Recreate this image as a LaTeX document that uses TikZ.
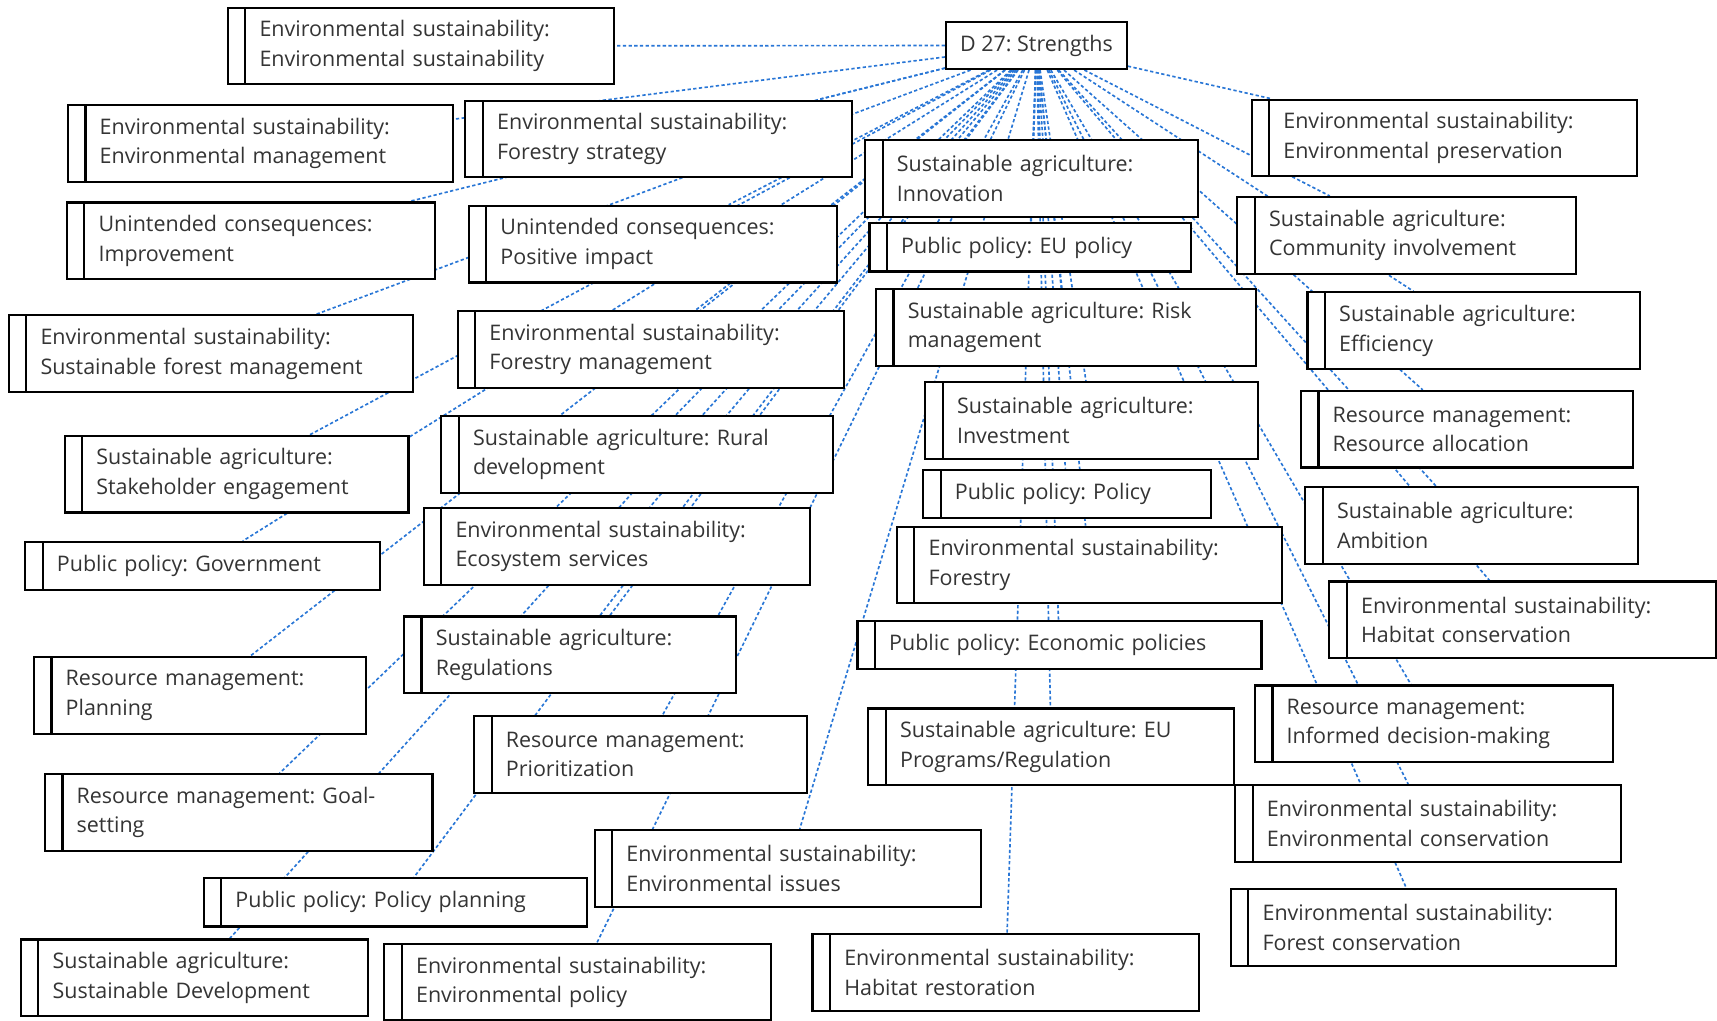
\documentclass[tikz,border=0pt]{standalone}
\usepackage{fontspec}
\setmainfont{Open Sans}
\usepackage{xcolor}
\usepackage{tikz}
\usetikzlibrary{backgrounds}
\frenchspacing

\definecolor{txtgray}{RGB}{52,52,52}
\definecolor{linkblue}{RGB}{40,118,214}

\begin{document}
\begin{tikzpicture}[
  x=0.5pt, y=-0.5pt,
  hub/.style={draw, line width=1pt, fill=white, anchor=north west, inner sep=0pt,
              minimum width=82.5pt, minimum height=21.5pt,
              font=\fontsize{9.8}{13.5}\selectfont, text=txtgray},
  leaf/.style={draw, line width=1pt, fill=white, anchor=north west, align=left,
               inner xsep=14.5pt, inner ysep=2pt, minimum height=35pt,
               font=\fontsize{9.8}{13.5}\selectfont, text=txtgray,
               path picture={\draw[line width=1pt]
                 ([xshift=8pt]path picture bounding box.north west) --
                 ([xshift=8pt]path picture bounding box.south west);}},
  leafone/.style={leaf, minimum height=22pt},
  link/.style={draw=linkblue, line width=0.75pt, dash pattern=on 1.5pt off 1.1pt}
]
\useasboundingbox (0,0) rectangle (1568,932);

% --- centre ---
\node[hub] (hub) at (863,19) {D 27: Strengths};

% --- left column ---
\node[leaf, text width=147.5pt] (esSust)    at (207,6)   {Environmental sustainability:\\Environmental sustainability};
\node[leaf, text width=147pt]   (esMgmt)    at (61,95)   {Environmental sustainability:\\Environmental management};
\node[leaf, text width=139pt]   (ucImprove) at (60,184)  {Unintended consequences:\\Improvement};
\node[leaf, text width=155.5pt] (esSFM)     at (7,287)   {Environmental sustainability:\\Sustainable forest management};
\node[leaf, text width=128pt]   (saStake)   at (58,397)  {Sustainable agriculture:\\Stakeholder engagement};
\node[leafone, text width=133pt] (ppGov)    at (22,494)  {Public policy: Government};
\node[leaf, text width=122.5pt] (rmPlan)    at (30,599)  {Resource management:\\Planning};
\node[leaf, text width=148pt]   (rmGoal)    at (40,706)  {Resource management: Goal-\\setting};
\node[leafone, text width=146pt] (ppPlanning) at (185,801) {Public policy: Policy planning};
\node[leaf, text width=129.5pt] (saSustDev) at (18,857)  {Sustainable agriculture:\\Sustainable Development};

% --- middle-left column ---
\node[leaf, text width=147.5pt] (esForStrat) at (424,91)  {Environmental sustainability:\\Forestry strategy};
\node[leaf, text width=139pt]   (ucPositive) at (427,187) {Unintended consequences:\\Positive impact};
\node[leaf, text width=147.5pt] (esForMgmt)  at (417,283) {Environmental sustainability:\\Forestry management};
\node[leaf, text width=150pt]   (saRural)    at (402,379) {Sustainable agriculture: Rural\\development};
\node[leaf, text width=147.5pt] (esEco)      at (386,463) {Environmental sustainability:\\Ecosystem services};
\node[leaf, text width=122.5pt] (saReg)      at (368,562) {Sustainable agriculture:\\Regulations};
\node[leaf, text width=123pt]   (rmPrior)    at (432,653) {Resource management:\\Prioritization};
\node[leaf, text width=147.5pt] (esIssues)   at (542,757) {Environmental sustainability:\\Environmental issues};
\node[leaf, text width=147.5pt] (esPolicy)   at (350,861) {Environmental sustainability:\\Environmental policy};

% --- middle-right column ---
\node[leaf, text width=123pt]   (saInnov)    at (789,127) {Sustainable agriculture:\\Innovation};
\node[leafone, text width=118pt] (ppEU)      at (793,203) {Public policy: EU policy};
\node[leaf, text width=144.5pt] (saRisk)     at (799,263) {Sustainable agriculture: Risk\\management};
\node[leaf, text width=123pt]   (saInvest)   at (844,348) {Sustainable agriculture:\\Investment};
\node[leafone, text width=102.5pt] (ppPolicy) at (842,428) {Public policy: Policy};
\node[leaf, text width=147pt]   (esForestry) at (818,480) {Environmental sustainability:\\Forestry};
\node[leafone, text width=155.5pt] (ppEcon)  at (782,566) {Public policy: Economic policies};
\node[leaf, text width=138pt]   (saEUprog)   at (792,646) {Sustainable agriculture: EU\\Programs/Regulation};
\node[leaf, text width=147.5pt] (esHabRest)  at (741,852) {Environmental sustainability:\\Habitat restoration};

% --- right column ---
\node[leaf, text width=147pt]   (esPreserv)  at (1142,90)  {Environmental sustainability:\\Environmental preservation};
\node[leaf, text width=125.5pt] (saCommun)   at (1129,179) {Sustainable agriculture:\\Community involvement};
\node[leaf, text width=123pt]   (saEffic)    at (1193,266) {Sustainable agriculture:\\Efficiency};
\node[leaf, text width=122.5pt] (rmAlloc)    at (1187,356) {Resource management:\\Resource allocation};
\node[leaf, text width=123pt]   (saAmbit)    at (1191,444) {Sustainable agriculture:\\Ambition};
\node[leaf, text width=147.5pt] (esHabCons)  at (1213,530) {Environmental sustainability:\\Habitat conservation};
\node[leaf, text width=134.5pt] (rmInformed) at (1145,625) {Resource management:\\Informed decision-making};
\node[leaf, text width=147pt]   (esEnvCons)  at (1127,716) {Environmental sustainability:\\Environmental conservation};
\node[leaf, text width=147pt]   (esForCons)  at (1123,811) {Environmental sustainability:\\Forest conservation};

% --- links (behind the boxes) ---
\begin{pgfonlayer}{background}
\fill[white] (0,0) rectangle (1568,932);
\draw[link] (hub) -- (esSust);
\draw[link] (hub) -- (esMgmt);
\draw[link] (hub) -- (ucImprove);
\draw[link] (hub) -- (esSFM);
\draw[link] (hub) -- (saStake);
\draw[link] (hub) -- (ppGov);
\draw[link] (hub) -- (rmPlan);
\draw[link] (hub) -- (rmGoal);
\draw[link] (hub) -- (ppPlanning);
\draw[link] (hub) -- (saSustDev);
\draw[link] (hub) -- (esForStrat);
\draw[link] (hub) -- (ucPositive);
\draw[link] (hub) -- (esForMgmt);
\draw[link] (hub) -- (saRural);
\draw[link] (hub) -- (esEco);
\draw[link] (hub) -- (saReg);
\draw[link] (hub) -- (rmPrior);
\draw[link] (hub) -- (esIssues);
\draw[link] (hub) -- (esPolicy);
\draw[link] (hub) -- (saInnov);
\draw[link] (hub) -- (ppEU);
\draw[link] (hub) -- (saRisk);
\draw[link] (hub) -- (saInvest);
\draw[link] (hub) -- (ppPolicy);
\draw[link] (hub) -- (esForestry);
\draw[link] (hub) -- (ppEcon);
\draw[link] (hub) -- (saEUprog);
\draw[link] (hub) -- (esHabRest);
\draw[link] (hub) -- (esPreserv);
\draw[link] (hub) -- (saCommun);
\draw[link] (hub) -- (saEffic);
\draw[link] (hub) -- (rmAlloc);
\draw[link] (hub) -- (saAmbit);
\draw[link] (hub) -- (esHabCons);
\draw[link] (hub) -- (rmInformed);
\draw[link] (hub) -- (esEnvCons);
\draw[link] (hub) -- (esForCons);
\end{pgfonlayer}

\end{tikzpicture}
\end{document}
